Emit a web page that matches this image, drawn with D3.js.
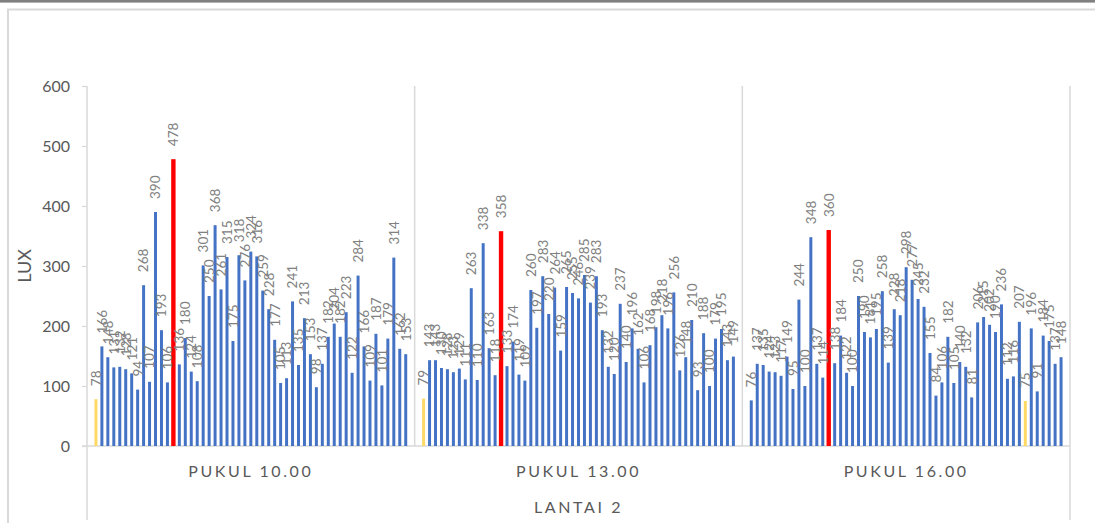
<!DOCTYPE html>
<html><head><meta charset="utf-8">
<script src="https://cdn.jsdelivr.net/npm/d3@7"></script>
<style>
body{margin:0;background:#fff;}
svg{display:block;font-family:Lato,"Open Sans",sans-serif;}
</style>
</head><body>
<svg id="c" width="1095" height="523"></svg>
<script>
const groups = ["PUKUL 10.00", "PUKUL 13.00", "PUKUL 16.00"];
const pukul10 = [78,166,148,131,132,128,121,94,268,107,390,193,106,478,136,180,124,108,301,250,368,261,315,175,318,276,324,316,259,228,177,105,113,241,135,213,153,98,137,182,204,182,223,122,284,166,109,187,101,179,314,162,153];
const pukul13 = [79,143,143,130,128,123,129,111,263,110,338,163,118,358,133,174,119,109,260,197,283,220,264,159,265,255,246,285,239,283,193,132,120,237,140,196,162,106,168,198,218,196,256,126,148,210,93,188,100,179,195,143,149];
const pukul16 = [76,137,135,124,123,117,149,95,244,100,348,137,114,360,138,184,122,100,250,190,181,195,258,139,228,218,298,277,245,232,155,84,106,182,105,140,132,81,206,215,202,190,236,112,116,207,75,196,91,184,175,137,148];
const yTicks = [0, 100, 200, 300, 400, 500, 600];
const xTitle = "LANTAI 2";
const yTitle = "LUX";
const series = [pukul10, pukul13, pukul16];

const svg = d3.select("#c");
const pLeft = 87, pRight = 1070, pTop = 86, pBase = 446;

// frame
svg.append("rect").attr("x",0).attr("y",0).attr("width",1095).attr("height",2.6).attr("fill","#808080");
svg.append("rect").attr("x",8).attr("y",9.5).attr("width",1200).attr("height",600)
  .attr("fill","none").attr("stroke","#d9d9d9").attr("stroke-width",2);

const y = d3.scaleLinear().domain([0,600]).range([pBase, pTop]);
const gx = d3.scaleBand().domain(groups).range([pLeft, pRight]).padding(0);
const xb = d3.scaleBand().domain(d3.range(53)).range([0, gx.bandwidth()])
  .paddingInner(0.5).paddingOuter(1.25);

// y axis
const ya = svg.append("g").attr("transform",`translate(${pLeft},0)`)
  .call(d3.axisLeft(y).tickValues(yTicks).tickSize(5).tickSizeOuter(0).tickPadding(12));
ya.select(".domain").remove();
ya.selectAll(".tick line").attr("stroke","#d9d9d9").attr("stroke-width",1.3);
ya.selectAll(".tick text").attr("fill","#595959").attr("font-size","16px")
  .attr("font-family","Lato,'Open Sans',sans-serif");

// axis lines
const lineC = "#d9d9d9";
svg.append("line").attr("x1",pLeft).attr("x2",pLeft).attr("y1",pTop).attr("y2",520)
  .attr("stroke",lineC).attr("stroke-width",1.5);
svg.append("line").attr("x1",pLeft-5).attr("x2",pRight).attr("y1",pBase).attr("y2",pBase)
  .attr("stroke",lineC).attr("stroke-width",1.5);
groups.forEach((g,i)=>{
  const xe = gx(g)+gx.bandwidth();
  svg.append("line").attr("x1",xe).attr("x2",xe).attr("y1",pTop)
    .attr("y2", i===groups.length-1 ? 520 : pBase)
    .attr("stroke",lineC).attr("stroke-width",1.5);
});

// bars
groups.forEach((g,gi)=>{
  const vals = series[gi];
  const mx = d3.max(vals), mn = d3.min(vals);
  const gg = svg.append("g").attr("transform",`translate(${gx(g)},0)`);
  gg.selectAll("rect").data(vals).join("rect")
    .attr("x",(d,i)=> xb(i) - (d===mx?0.7:0))
    .attr("width",(d)=> xb.bandwidth() + (d===mx?1.4:0))
    .attr("y",d=>y(d)).attr("height",d=>pBase-y(d))
    .attr("fill",d=> d===mx ? "#ff0000" : d===mn ? "#ffd966" : "#4472c4");
  gg.selectAll("text").data(vals).join("text")
    .attr("transform",(d,i)=>`translate(${xb(i)+xb.bandwidth()/2},${y(d)-13}) rotate(-90)`)
    .attr("dy","0.36em").attr("text-anchor","start")
    .attr("font-size","13.5px").attr("fill","#808080")
    .text(d=>d);
  svg.append("text").attr("x",gx(g)+gx.bandwidth()/2).attr("y",471).attr("dy","0.36em")
    .attr("text-anchor","middle").attr("font-size","16px").attr("fill","#595959")
    .attr("letter-spacing","2.6px").text(g);
});

svg.append("text").attr("x",(pLeft+pRight)/2).attr("y",507).attr("dy","0.36em")
  .attr("text-anchor","middle").attr("font-size","16px").attr("fill","#595959")
  .attr("letter-spacing","2.6px").text(xTitle);
svg.append("text").attr("transform","translate(25,266) rotate(-90)").attr("dy","0.36em")
  .attr("text-anchor","middle").attr("font-size","18px").attr("fill","#595959")
  .text(yTitle);
</script>
</body></html>
